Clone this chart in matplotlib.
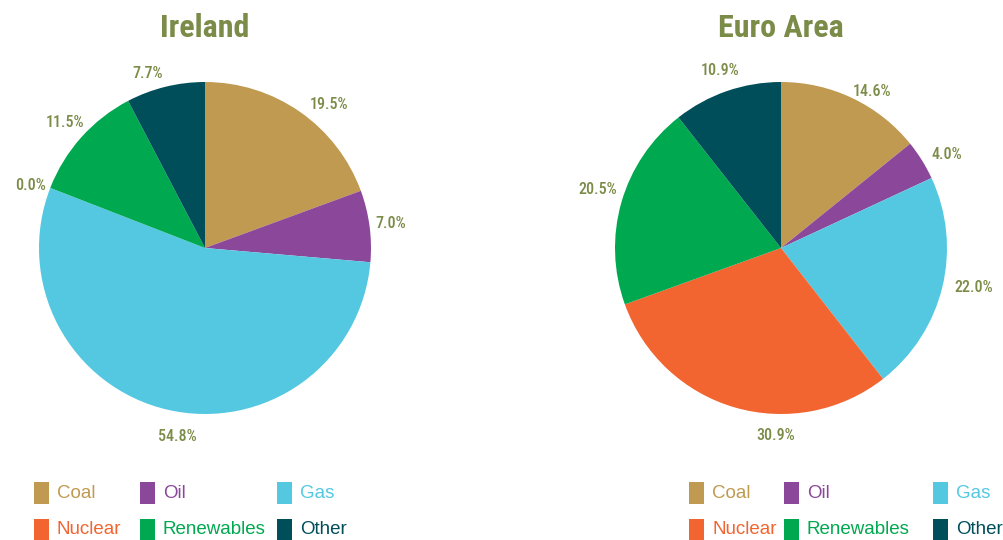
import matplotlib.pyplot as plt
from matplotlib.patches import Rectangle
from matplotlib import font_manager
import numpy as np

# Share of electricity generation by fuel (%)
fuels = ["Coal", "Oil", "Gas", "Nuclear", "Renewables", "Other"]
ireland = [19.5, 7.0, 54.8, 0.0, 11.5, 7.7]
euro_area = [14.6, 4.0, 22.0, 30.9, 20.5, 10.9]
titles = ["Ireland", "Euro Area"]

colours = ["#C09A50", "#8B4799", "#55C8E1", "#F26531", "#00A94F", "#004E5A"]
olive = "#7B8B48"

available = {f.name for f in font_manager.fontManager.ttflist}


def pick(*names):
    for n in names:
        if n in available:
            return n
    return "DejaVu Sans"


narrow = pick("Roboto Condensed", "Archivo Narrow", "Fira Sans Condensed")
plain = pick("Liberation Sans", "Arimo")

W, H = 1004, 540
fig = plt.figure(figsize=(W / 100, H / 100), dpi=100)

R = 166  # pie radius in pixels
centres = [(205, 248), (781, 248)]

# small pixel nudges so labels sit where the spreadsheet put them
nudges = {
    ("Ireland", 0): (17, -10), ("Ireland", 2): (15, -6), ("Ireland", 5): (-13, -8),
    ("Ireland", 3): (0, -5),
    ("Euro Area", 0): (10, -13), ("Euro Area", 1): (7, -6), ("Euro Area", 2): (10, 4),
    ("Euro Area", 3): (47, -7), ("Euro Area", 4): (-3, 7),
}


def draw_pie(values, title, cx, cy):
    ax = fig.add_axes([(cx - R) / W, (H - cy - R) / H, 2 * R / W, 2 * R / H])
    ax.pie(values, colors=colours, startangle=90, counterclock=False,
           wedgeprops=dict(linewidth=0), radius=1.0)
    ax.set_xlim(-1, 1)
    ax.set_ylim(-1, 1)
    ax.set_aspect("equal")
    ax.axis("off")

    # percentage labels just outside each wedge
    total = sum(values)
    start = 0.0
    for i, v in enumerate(values):
        mid = (start + v / 2) / total * 2 * np.pi
        start += v
        r = 1.13
        dx, dy = nudges.get((title, i), (0, 0))
        ax.annotate(f"{v:.1f}%", (r * np.sin(mid), r * np.cos(mid)),
                    xytext=(dx * 0.72, dy * 0.72), textcoords="offset points",
                    ha="center", va="center", fontsize=11.5, fontweight="medium",
                    color=olive, family=narrow, annotation_clip=False)

    fig.text(cx / W, 1 - 28 / H, title, ha="center", va="center",
             fontsize=23, fontweight="semibold", color=olive, family=narrow)


def draw_legend(col_x, rows_y):
    # two rows of three: colour swatch followed by coloured name
    for i, name in enumerate(fuels):
        row, col = divmod(i, 3)
        x = col_x[col]
        y = rows_y[row]
        fig.patches.append(Rectangle((x / W, 1 - (y + 11) / H), 15 / W, 22 / H,
                                     transform=fig.transFigure,
                                     facecolor=colours[i], edgecolor="none"))
        fig.text((x + 23) / W, 1 - y / H, name, ha="left", va="center",
                 fontsize=13.5, color=colours[i], family=plain)


for vals, title, (cx, cy) in zip([ireland, euro_area], titles, centres):
    draw_pie(vals, title, cx, cy)

draw_legend([34, 140, 277], [493, 530])
draw_legend([689, 784, 933], [493, 530])

fig.savefig("out.png", dpi=100)
